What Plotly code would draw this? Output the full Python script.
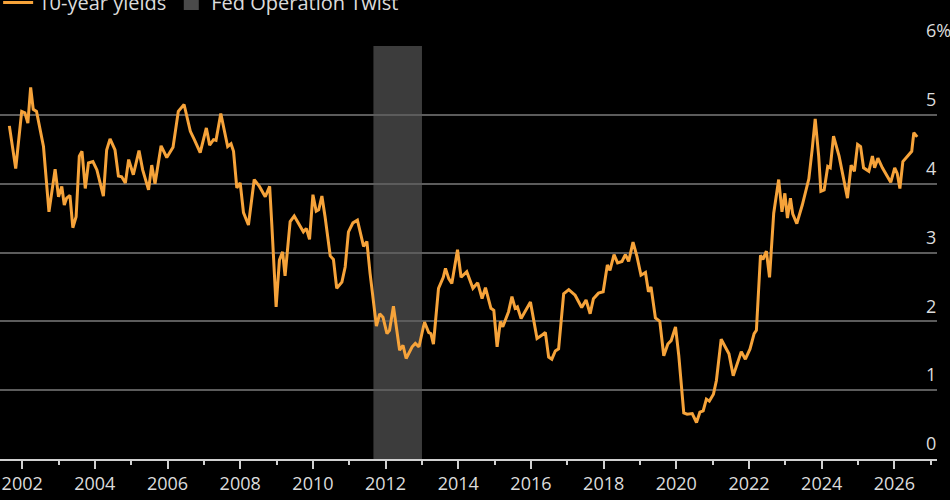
import plotly.graph_objects as go

# --- Data (10-year yield, %) ---
dates = [
    "2001-08-25", "2001-10-28", "2001-12-27", "2002-01-28", "2002-02-27", "2002-03-27",
    "2002-04-22", "2002-05-25", "2002-08-03", "2002-09-27", "2002-11-28", "2003-01-01",
    "2003-02-03", "2003-02-28", "2003-03-24", "2003-04-26", "2003-05-25", "2003-06-27",
    "2003-07-29", "2003-08-25", "2003-09-27", "2003-10-29", "2003-12-13", "2004-01-22",
    "2004-03-27", "2004-04-29", "2004-06-02", "2004-07-22", "2004-08-25", "2004-09-27",
    "2004-11-03", "2004-12-06", "2005-01-22", "2005-03-20", "2005-04-26", "2005-06-24",
    "2005-07-26", "2005-08-28", "2005-10-28", "2005-12-24", "2006-02-25", "2006-04-19",
    "2006-06-16", "2006-08-18", "2006-09-27", "2006-11-25", "2007-01-26", "2007-02-28",
    "2007-04-08", "2007-05-03", "2007-06-20", "2007-08-03", "2007-08-28", "2007-10-01",
    "2007-10-26", "2007-11-28", "2008-01-01", "2008-02-03", "2008-03-24", "2008-05-21",
    "2008-07-12", "2008-09-09", "2008-10-23", "2008-11-14", "2008-12-27", "2009-01-29",
    "2009-03-02", "2009-03-27", "2009-05-17", "2009-06-27", "2009-08-25", "2009-09-27",
    "2009-10-26", "2009-11-28", "2010-01-01", "2010-02-03", "2010-02-28", "2010-04-01",
    "2010-05-03", "2010-06-24", "2010-07-26", "2010-08-28", "2010-10-19", "2010-11-21",
    "2010-12-24", "2011-02-07", "2011-03-24", "2011-04-29", "2011-05-25", "2011-06-27",
    "2011-07-29", "2011-10-01", "2011-11-03", "2011-12-06", "2012-01-15", "2012-02-10",
    "2012-03-20", "2012-05-21", "2012-06-24", "2012-07-26", "2012-09-24", "2012-10-26",
    "2012-12-02", "2013-01-26", "2013-03-09", "2013-04-01", "2013-04-26", "2013-06-16",
    "2013-08-03", "2013-08-25", "2013-09-27", "2013-10-28", "2013-12-24", "2014-01-29",
    "2014-03-27", "2014-05-28", "2014-07-15", "2014-08-28", "2014-10-01", "2014-11-25",
    "2014-12-24", "2015-01-26", "2015-02-28", "2015-03-24", "2015-05-21", "2015-06-24",
    "2015-07-26", "2015-08-18", "2015-09-24", "2015-12-27", "2016-03-02", "2016-04-22",
    "2016-05-25", "2016-06-27", "2016-07-29", "2016-09-02", "2016-10-05", "2016-11-25",
    "2017-01-15", "2017-03-20", "2017-05-25", "2017-07-08", "2017-08-18", "2017-09-20",
    "2017-11-10", "2017-12-27", "2018-02-07", "2018-03-05", "2018-04-15", "2018-05-21",
    "2018-07-04", "2018-08-07", "2018-09-09", "2018-10-23", "2018-12-02", "2019-01-11",
    "2019-02-25", "2019-03-27", "2019-04-22", "2019-06-05", "2019-07-19", "2019-08-28",
    "2019-10-08", "2019-11-10", "2019-12-24", "2020-01-26", "2020-03-16", "2020-04-19",
    "2020-06-09", "2020-07-22", "2020-08-25", "2020-09-27", "2020-10-29", "2020-11-28",
    "2021-01-08", "2021-02-07", "2021-03-27", "2021-05-10", "2021-06-13", "2021-07-26",
    "2021-09-06", "2021-10-15", "2021-11-25", "2022-01-11", "2022-02-21", "2022-03-16",
    "2022-04-26", "2022-05-21", "2022-06-24", "2022-07-26", "2022-09-06", "2022-10-26",
    "2022-11-28", "2022-12-27", "2023-01-22", "2023-02-21", "2023-03-16", "2023-04-26",
    "2023-06-20", "2023-07-22", "2023-08-25", "2023-09-27", "2023-10-28", "2023-12-02",
    "2023-12-24", "2024-01-26", "2024-03-02", "2024-03-27", "2024-04-29", "2024-06-24",
    "2024-08-07", "2024-09-16", "2024-10-23", "2024-11-25", "2024-12-27", "2025-01-26",
    "2025-02-25", "2025-04-19", "2025-05-25", "2025-06-16", "2025-07-19", "2025-09-02",
    "2025-11-25", "2026-01-04", "2026-01-29", "2026-02-25", "2026-03-27", "2026-05-21",
    "2026-06-24", "2026-07-15", "2026-08-18",
]

yields = [
    4.84, 4.22, 5.05, 5.03, 4.88, 5.40,
    5.08, 5.05, 4.54, 3.59, 4.21, 3.81,
    3.96, 3.69, 3.79, 3.83, 3.36, 3.52,
    4.40, 4.47, 3.93, 4.30, 4.32, 4.20,
    3.82, 4.49, 4.65, 4.49, 4.11, 4.10,
    4.01, 4.35, 4.13, 4.48, 4.20, 3.91,
    4.27, 4.00, 4.55, 4.38, 4.53, 5.05,
    5.15, 4.76, 4.64, 4.45, 4.81, 4.56,
    4.64, 4.63, 5.02, 4.71, 4.54, 4.58,
    4.47, 3.94, 4.01, 3.58, 3.40, 4.06,
    3.96, 3.81, 3.96, 3.40, 2.21, 2.89,
    3.01, 2.66, 3.45, 3.53, 3.38, 3.30,
    3.35, 3.19, 3.84, 3.60, 3.62, 3.82,
    3.52, 2.95, 2.90, 2.48, 2.57, 2.79,
    3.30, 3.43, 3.47, 3.26, 3.09, 3.16,
    2.70, 1.93, 2.11, 2.06, 1.82, 1.87,
    2.22, 1.58, 1.65, 1.46, 1.63, 1.68,
    1.63, 1.99, 1.84, 1.82, 1.67, 2.48,
    2.64, 2.77, 2.62, 2.55, 3.04, 2.64,
    2.72, 2.48, 2.56, 2.33, 2.49, 2.19,
    2.16, 1.63, 2.00, 1.92, 2.14, 2.36,
    2.19, 2.21, 2.04, 2.28, 1.75, 1.80,
    1.84, 1.48, 1.45, 1.57, 1.60, 2.40,
    2.46, 2.38, 2.20, 2.31, 2.11, 2.33,
    2.41, 2.43, 2.82, 2.74, 2.97, 2.85,
    2.87, 2.97, 2.87, 3.15, 2.94, 2.67,
    2.71, 2.43, 2.50, 2.05, 2.00, 1.50,
    1.67, 1.72, 1.92, 1.50, 0.67, 0.65,
    0.66, 0.53, 0.68, 0.70, 0.87, 0.84,
    0.94, 1.14, 1.74, 1.62, 1.53, 1.21,
    1.38, 1.56, 1.45, 1.60, 1.82, 1.87,
    2.96, 2.90, 3.02, 2.64, 3.57, 4.06,
    3.59, 3.86, 3.50, 3.79, 3.56, 3.42,
    3.69, 3.86, 4.07, 4.49, 4.94, 4.40,
    3.89, 3.91, 4.25, 4.23, 4.69, 4.40,
    4.08, 3.79, 4.27, 4.18, 4.57, 4.54,
    4.23, 4.18, 4.40, 4.23, 4.37, 4.23,
    4.02, 4.23, 4.15, 3.93, 4.32, 4.42,
    4.47, 4.74, 4.68,
]

# Fed Operation Twist window
twist_start = "2011-09-01"
twist_end = "2013-01-01"

y_tickvals = [0, 1, 2, 3, 4, 5, 6]
y_ticktext = ["0", "1", "2", "3", "4", "5", "6%"]

# --- Styling ---
LINE_COLOR = "#F6A33A"
SHADE_COLOR = "#3c3c3c"
GRID_COLOR = "#5c5c5c"
AXIS_COLOR = "#d0d0d0"
TEXT_COLOR = "#dcdcdc"
FONT = "Open Sans, Liberation Sans, sans-serif"

fig = go.Figure()

fig.add_trace(go.Scatter(
    x=dates, y=yields, mode="lines", name="10-year yields",
    line=dict(color=LINE_COLOR, width=3),
    legendrank=1,
))

# legend-only entry for the shaded window
fig.add_trace(go.Scatter(
    x=[None], y=[None], mode="markers", name="Fed Operation Twist",
    marker=dict(symbol="square", size=15, color="#4a4a4a"),
    legendrank=2,
))

fig.add_shape(
    type="rect", xref="x", yref="paper",
    x0=twist_start, x1=twist_end, y0=0, y1=1,
    fillcolor=SHADE_COLOR, line=dict(width=0), layer="below",
)

fig.update_layout(
    width=950, height=500,
    margin=dict(l=0, r=13, t=46, b=41, autoexpand=False),
    paper_bgcolor="black",
    plot_bgcolor="black",
    font=dict(family=FONT, size=18, color=TEXT_COLOR),
    showlegend=True,
    legend=dict(
        orientation="h", xref="paper", yref="container",
        x=-0.002, xanchor="left", y=0.995, yanchor="middle",
        font=dict(size=20, color=TEXT_COLOR),
        bgcolor="rgba(0,0,0,0)",
    ),
    xaxis=dict(
        type="date",
        range=["2001-05-23", "2027-03-05"],
        tick0="2002-01-01", dtick="M24", tickformat="%Y",
        ticks="outside", ticklen=8, tickwidth=1.5, tickcolor=AXIS_COLOR,
        minor=dict(dtick="M12", ticks="outside", ticklen=4, tickwidth=1.5,
                   tickcolor=AXIS_COLOR, showgrid=False),
        showline=True, linecolor=AXIS_COLOR, linewidth=1.5,
        showgrid=False, zeroline=False,
    ),
    yaxis=dict(
        range=[0, 6], side="right",
        tickvals=y_tickvals, ticktext=y_ticktext,
        showgrid=True, gridcolor=GRID_COLOR, gridwidth=1.5,
        zeroline=False, showline=False, ticks="",
        ticklabelposition="outside",
        ticklabelstandoff=-12, ticklabelshift=-15,
    ),
    hovermode=False,
)

# page body has a default margin; drop it so the chart fills the window
fig.write_html(
    "out.html",
    config={"displayModeBar": False},
    post_script="document.body.style.margin='0';",
)
